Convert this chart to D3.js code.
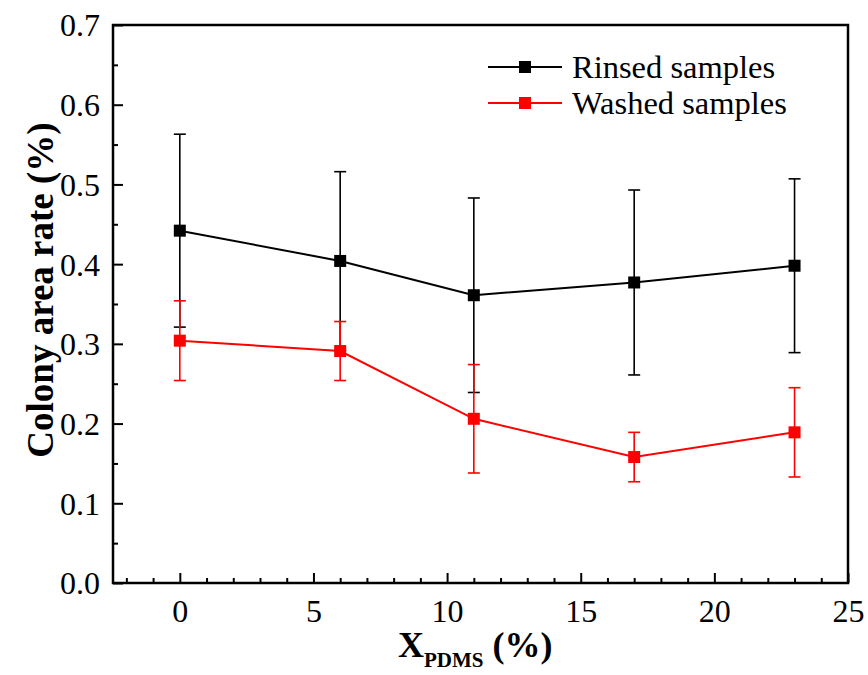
<!DOCTYPE html>
<html>
<head>
<meta charset="utf-8">
<script src="https://cdn.jsdelivr.net/npm/d3@7"></script>
</head>
<body style="margin:0;padding:0;background:#ffffff">
<svg id="chart" width="868" height="675" style="display:block;background:#ffffff"></svg>
<script>
// ---- data ----
const xValues = [0, 6, 11, 17, 23];
const rinsedMean = [0.442, 0.404, 0.361, 0.377, 0.398];
const rinsedErr  = [0.121, 0.112, 0.122, 0.116, 0.109];
const washedMean = [0.304, 0.291, 0.206, 0.158, 0.189];
const washedErr  = [0.050, 0.037, 0.068, 0.031, 0.056];
const seriesNames = ["Rinsed samples", "Washed samples"];
const seriesColors = ["#000000", "#ff0000"];
const xTicks = [0, 5, 10, 15, 20, 25];
const yTicks = [0.0, 0.1, 0.2, 0.3, 0.4, 0.5, 0.6, 0.7];

const FONT = '"Liberation Serif", "Times New Roman", serif';

// ---- layout ----
const svg = d3.select("#chart");
const L = 113, R = 848, T = 25, B = 583;
const x = d3.scaleLinear().domain([-2.5, 25]).range([L, R]);
const y = d3.scaleLinear().domain([0, 0.7]).range([B, T]);

const xMinor = d3.range(-2, 25, 1).filter(v => v % 5 !== 0);
const yMinor = d3.range(0.05, 0.7, 0.1);

const g = svg.append("g");

// x axis (ticks inside)
const xAxis = d3.axisBottom(x).tickValues(xTicks).tickSize(-10).tickPadding(0)
  .tickFormat(d3.format("d"));
const gx = g.append("g").attr("transform", `translate(0,${B})`).call(xAxis)
  .attr("font-family", FONT);
gx.select(".domain").remove();
gx.selectAll(".tick line").attr("stroke", "#000").attr("stroke-width", 2);
gx.selectAll(".tick text").style("font-size", "32px").style("font-family", FONT)
  .attr("fill", "#000").attr("y", 39).attr("dy", "0");

const gxm = g.append("g").attr("transform", `translate(0,${B})`)
  .call(d3.axisBottom(x).tickValues(xMinor).tickSize(-5).tickFormat(""));
gxm.select(".domain").remove();
gxm.selectAll(".tick line").attr("stroke", "#000").attr("stroke-width", 2);

// y axis
const yAxis = d3.axisLeft(y).tickValues(yTicks).tickSize(-10).tickPadding(13)
  .tickFormat(d3.format(".1f"));
const gy = g.append("g").attr("transform", `translate(${L},0)`).call(yAxis)
  .attr("font-family", FONT);
gy.select(".domain").remove();
gy.selectAll(".tick line").attr("stroke", "#000").attr("stroke-width", 2);
gy.selectAll(".tick text").style("font-size", "32px").style("font-family", FONT)
  .attr("fill", "#000").attr("x", -13).attr("dy", "0.34em");

const gym = g.append("g").attr("transform", `translate(${L},0)`)
  .call(d3.axisLeft(y).tickValues(yMinor).tickSize(-5).tickFormat(""));
gym.select(".domain").remove();
gym.selectAll(".tick line").attr("stroke", "#000").attr("stroke-width", 2);

// frame
g.append("rect").attr("x", L).attr("y", T).attr("width", R - L).attr("height", B - T)
  .attr("fill", "none").attr("stroke", "#000").attr("stroke-width", 2.5);

// series
const series = [
  { name: seriesNames[0], color: seriesColors[0], mean: rinsedMean, err: rinsedErr },
  { name: seriesNames[1], color: seriesColors[1], mean: washedMean, err: washedErr }
];
const capW = 6, mk = 12;
const line = d3.line().x(d => x(d.x)).y(d => y(d.v));

series.forEach(s => {
  const pts = xValues.map((xv, i) => ({ x: xv, v: s.mean[i], e: s.err[i] }));
  const eg = g.append("g").attr("stroke", s.color).attr("stroke-width", 1.6);
  pts.forEach(p => {
    eg.append("line").attr("x1", x(p.x)).attr("x2", x(p.x)).attr("y1", y(p.v - p.e)).attr("y2", y(p.v + p.e));
    eg.append("line").attr("x1", x(p.x) - capW).attr("x2", x(p.x) + capW).attr("y1", y(p.v + p.e)).attr("y2", y(p.v + p.e));
    eg.append("line").attr("x1", x(p.x) - capW).attr("x2", x(p.x) + capW).attr("y1", y(p.v - p.e)).attr("y2", y(p.v - p.e));
  });
  g.append("path").datum(pts).attr("d", line).attr("fill", "none")
    .attr("stroke", s.color).attr("stroke-width", 2);
  g.selectAll(null).data(pts).enter().append("rect")
    .attr("x", d => x(d.x) - mk / 2).attr("y", d => y(d.v) - mk / 2)
    .attr("width", mk).attr("height", mk).attr("fill", s.color);
});

// legend
const lg = g.append("g");
const legRows = [67, 103];
series.forEach((s, i) => {
  const yy = legRows[i];
  lg.append("line").attr("x1", 488).attr("x2", 562).attr("y1", yy).attr("y2", yy)
    .attr("stroke", s.color).attr("stroke-width", 2);
  lg.append("rect").attr("x", 525 - mk / 2).attr("y", yy - mk / 2).attr("width", mk).attr("height", mk)
    .attr("fill", s.color);
  lg.append("text").attr("x", 572).attr("y", yy).attr("dy", "0.35em")
    .style("font-family", FONT).style("font-size", "32.5px").attr("fill", "#000").text(s.name);
});

// axis titles
const xt = svg.append("text").attr("x", 398).attr("y", 657).attr("text-anchor", "start")
  .style("font-family", FONT).style("font-size", "36px").style("font-weight", "bold").attr("fill", "#000");
xt.append("tspan").text("X");
xt.append("tspan").attr("dy", 10).style("font-size", "21px").text("PDMS");
xt.append("tspan").attr("dy", -10).text(" (%)");

svg.append("text").attr("transform", `translate(53,290) rotate(-90)`)
  .attr("text-anchor", "middle").style("font-family", FONT).style("font-size", "37px").style("font-weight", "bold")
  .attr("fill", "#000").text("Colony area rate (%)");
</script>
</body>
</html>
